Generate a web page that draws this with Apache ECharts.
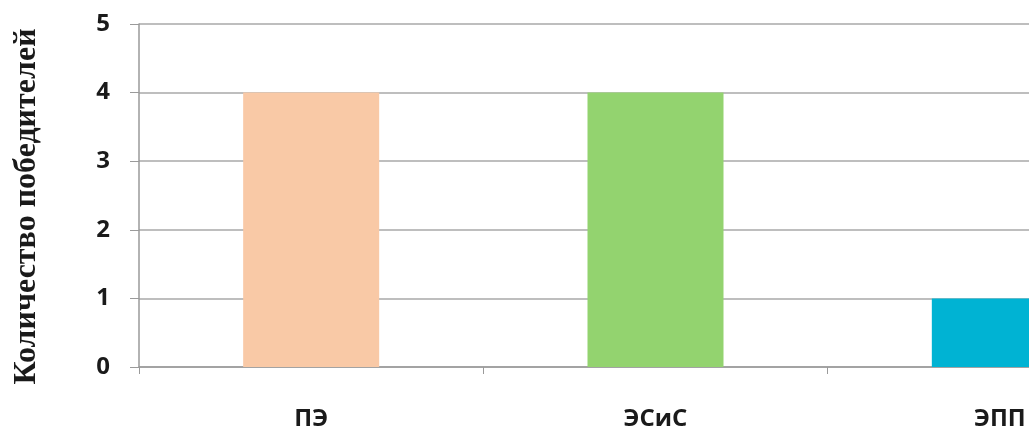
<!DOCTYPE html>
<html><head><meta charset="utf-8">
<script src="https://cdn.jsdelivr.net/npm/echarts@6/dist/echarts.min.js"></script>
<style>html,body{margin:0;padding:0;background:#fff}#c{width:1029px;height:432px}</style>
</head><body><div id="c"></div>
<script>
const categories = ['ПЭ', 'ЭСиС', 'ЭПП'];
const values = [4, 4, 1];
const barColors = ['#F9C9A6', '#93D36F', '#00B3D3'];
const yTicks = [0, 1, 2, 3, 4, 5];
const yTitle = 'Количество победителей';

const chart = echarts.init(document.getElementById('c'));
chart.setOption({
  animation: false,
  grid: {left: 139, top: 24, bottom: 65, right: -143, containLabel: false, outerBoundsMode: 'none'},
  xAxis: {
    type: 'category', data: categories,
    axisLine: {lineStyle: {color: '#9a9a9a', width: 1.5}},
    axisTick: {show: true, length: 7, lineStyle: {color: '#9a9a9a'}},
    axisLabel: {margin: 40, fontFamily: 'Open Sans', fontWeight: 'bold', fontSize: 24, color: '#1a1a1a'}
  },
  yAxis: {
    type: 'value', min: yTicks[0], max: yTicks[yTicks.length-1], interval: 1,
    name: yTitle, nameLocation: 'middle', nameGap: 96, nameRotate: 90,
    nameTextStyle: {fontFamily: 'Liberation Serif', fontWeight: 'bold', fontSize: 32, color: '#1a1a1a', padding: [0, 22, 0, 0]},
    axisLine: {show: true, lineStyle: {color: '#9a9a9a', width: 1.5}},
    axisTick: {show: true, length: 9, lineStyle: {color: '#9a9a9a'}},
    splitLine: {lineStyle: {color: '#a8a8a8', width: 1.5}},
    axisLabel: {margin: 29, fontFamily: 'Open Sans', fontWeight: 'bold', fontSize: 24, color: '#1a1a1a'}
  },
  series: [{
    type: 'bar', barWidth: '39.5%',
    data: values.map((v, i) => ({value: v, itemStyle: {color: barColors[i]}}))
  }]
});
</script></body></html>
